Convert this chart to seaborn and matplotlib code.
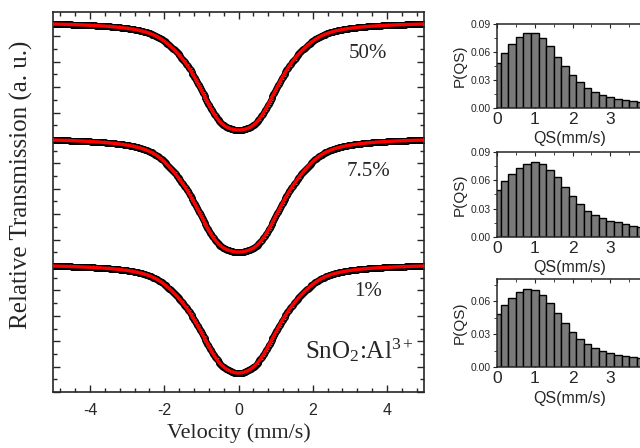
import numpy as np
import pandas as pd
import matplotlib
matplotlib.use("Agg")
import matplotlib.pyplot as plt
from matplotlib.ticker import MultipleLocator, NullFormatter, FixedLocator
import seaborn as sns

# ---------------- data ----------------
samples = ["50%", "7.5%", "1%"]
qs = [0.0, 0.2, 0.4, 0.6, 0.8, 1.0, 1.2, 1.4, 1.6, 1.8,
      2.0, 2.2, 2.4, 2.6, 2.8, 3.0, 3.2, 3.4, 3.6, 3.8]
p_50 = [0.048, 0.059, 0.069, 0.076, 0.080, 0.080, 0.075, 0.066, 0.055, 0.045,
        0.035, 0.0275, 0.021, 0.017, 0.014, 0.012, 0.010, 0.009, 0.008, 0.0065]
p_75 = [0.050, 0.059, 0.0665, 0.073, 0.077, 0.079, 0.077, 0.071, 0.063, 0.053,
        0.043, 0.035, 0.028, 0.023, 0.0196, 0.017, 0.0154, 0.0137, 0.012, 0.0105]
p_1 = [0.048, 0.056, 0.0624, 0.068, 0.071, 0.070, 0.0654, 0.058, 0.0495, 0.040,
       0.032, 0.0255, 0.0207, 0.017, 0.0144, 0.0126, 0.0108, 0.0099, 0.009, 0.0081]
p_sets = [p_50, p_75, p_1]
p_ylims = [0.09, 0.09, 0.08]
qs_tick_labels = ["0", "1", "2", "3"]

# spectrum levels (arbitrary transmission units)
edge_level = [368, 252, 126]     # level at v = -5 mm/s
trough_level = [262, 140, 19]    # level at the absorption minimum
isomer_shift = 0.0               # mm/s
linewidth_fwhm = 0.9             # mm/s, Lorentzian line width of the fit

velocity = np.linspace(-5, 5, 400)


def envelope(v, q, p):
    """Quadrupole-splitting distribution fit: doublets at +-QS/2."""
    g = linewidth_fwhm / 2.0
    s = np.zeros_like(v)
    for qi, pi in zip(q, p):
        for c in (isomer_shift - qi / 2, isomer_shift + qi / 2):
            s += pi * g**2 / ((v - c) ** 2 + g**2)
    return s


sns.set_style("ticks")
plt.rcParams["font.family"] = ["Liberation Sans", "DejaVu Sans"]
plt.rcParams["mathtext.fontset"] = "custom"
plt.rcParams["mathtext.rm"] = "Liberation Serif"
plt.rcParams["mathtext.it"] = "Liberation Serif:italic"
plt.rcParams["axes.unicode_minus"] = False

W, H = 640, 448
fig = plt.figure(figsize=(W / 100, H / 100), dpi=100)


def box(l, t, r, b):
    return [l / W, 1 - b / H, (r - l) / W, (b - t) / H]


serif = ["Liberation Serif", "DejaVu Serif"]

# ---------------- main panel ----------------
ax = fig.add_axes(box(53, 12, 424, 392))
for k, name in enumerate(samples):
    s = envelope(velocity, qs, p_sets[k])
    s0 = envelope(np.array([isomer_shift]), qs, p_sets[k])[0]
    sn = s / s0
    s_edge = envelope(np.array([-5.0]), qs, p_sets[k])[0] / s0
    depth = (edge_level[k] - trough_level[k]) / (1 - s_edge)
    base = trough_level[k] + depth
    y = base - depth * sn
    df = pd.DataFrame({"v": velocity, "T": y})
    sns.scatterplot(data=df, x="v", y="T", ax=ax, marker="o", s=16,
                    facecolor="#d0d0d0", edgecolor="black", linewidth=1.0,
                    zorder=2, legend=False)
    sns.lineplot(data=df, x="v", y="T", ax=ax, color="red", lw=2.4,
                 zorder=3, legend=False)

label_pos_y = [339, 220, 100]
for k, name in enumerate(samples):
    ax.text(3.5, label_pos_y[k], name, fontsize=15, family=serif,
            ha="center", va="center")
ax.text(3.25, 42, r"SnO$_2$:Al$^{3+}$", fontsize=18, family=serif,
        ha="center", va="center")

ax.set_xlim(-5, 5)
ax.set_ylim(0, 380)
ax.xaxis.set_major_locator(MultipleLocator(2))
ax.xaxis.set_minor_locator(MultipleLocator(0.4))
ax.yaxis.set_major_locator(MultipleLocator(25.4))
ax.yaxis.set_minor_locator(MultipleLocator(12.7))
ax.yaxis.set_major_formatter(NullFormatter())
ax.tick_params(which="both", direction="in", top=True, right=True,
               labelsize=11.5, width=1)
ax.tick_params(which="major", length=5, pad=8)
ax.tick_params(which="minor", length=3)
ax.set_xlabel("Velocity (mm/s)", fontsize=16, family=serif, labelpad=4)
ax.set_ylabel("Relative Transmission (a. u.)", fontsize=18, family=serif)
ax.yaxis.set_label_coords(-0.055, 0.545)
for sp in ax.spines.values():
    sp.set_linewidth(1.2)

# ---------------- QS distribution insets ----------------
inset_boxes = [(497, 24, 648, 108), (497, 152, 648, 237), (497, 279, 648, 367)]
for k in range(3):
    l, t, r, b = inset_boxes[k]
    ia = fig.add_axes(box(l, t, r, b))
    dfp = pd.DataFrame({"QS": qs, "P": p_sets[k]})
    sns.barplot(data=dfp, x="QS", y="P", ax=ia, native_scale=True,
                width=1.0, color="#7a7a7a", edgecolor="black",
                linewidth=1.0, saturation=1, errorbar=None, orient="x")
    ia.set_xlim(0, 4)
    ia.set_ylim(0, p_ylims[k])
    ia.xaxis.set_major_locator(FixedLocator([0, 1, 2, 3]))
    ia.set_xticklabels(qs_tick_labels)
    ia.xaxis.set_minor_locator(MultipleLocator(0.5))
    ia.yaxis.set_major_locator(MultipleLocator(0.03))
    ia.yaxis.set_minor_locator(MultipleLocator(0.015))
    ia.yaxis.set_major_formatter(plt.FuncFormatter(lambda v, pos: f"{v:.2f}"))
    ia.tick_params(axis="x", which="both", direction="in", top=True,
                   labelsize=12.5, pad=3)
    ia.tick_params(axis="x", which="major", length=3)
    ia.tick_params(axis="x", which="minor", length=2)
    ia.tick_params(axis="y", which="both", direction="out", labelsize=7.5,
                   pad=1.5)
    ia.tick_params(axis="y", which="major", length=3)
    ia.tick_params(axis="y", which="minor", length=2)
    ia.set_xlabel("QS(mm/s)", fontsize=11.5)
    ia.xaxis.set_label_coords(0.48, -0.27)
    ia.set_ylabel("P(QS)", fontsize=11, labelpad=3)
    ia.spines["right"].set_visible(False)
    for sp in ("left", "bottom", "top"):
        ia.spines[sp].set_linewidth(1.1)

fig.savefig("out.png", dpi=100)
